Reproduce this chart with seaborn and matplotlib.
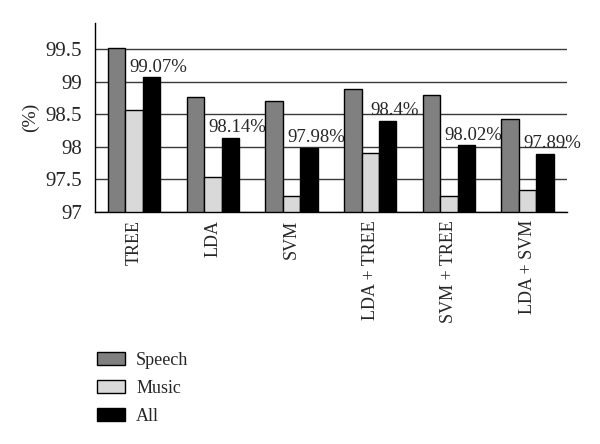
import matplotlib
matplotlib.use("Agg")
import matplotlib.pyplot as plt
import seaborn as sns
import pandas as pd
import numpy as np
from matplotlib.patches import Patch

methods = ["TREE", "LDA", "SVM", "LDA + TREE", "SVM + TREE", "LDA + SVM"]
speech = [99.52, 98.76, 98.71, 98.88, 98.79, 98.43]
music = [98.56, 97.53, 97.25, 97.91, 97.24, 97.34]
all_ = [99.07, 98.14, 97.98, 98.40, 98.02, 97.89]
all_labels = ["99.07%", "98.14%", "97.98%", "98.4%", "98.02%", "97.89%"]
series = ["Speech", "Music", "All"]
colors = ["#808080", "#d9d9d9", "#000000"]
yticks = [97, 97.5, 98, 98.5, 99, 99.5]
ytick_labels = ["97", "97.5", "98", "98.5", "99", "99.5"]

df = pd.DataFrame({
    "method": methods * 3,
    "series": ["Speech"] * 6 + ["Music"] * 6 + ["All"] * 6,
    "value": speech + music + all_,
})

sns.set_style("white")
plt.rcParams["font.family"] = ["Liberation Serif", "DejaVu Serif"]

fig = plt.figure(figsize=(6, 4.44), dpi=100)
ax = fig.add_axes([0.158, 0.523, 0.787, 0.425])

sns.barplot(data=df, x="method", y="value", hue="series", order=methods,
            hue_order=series, palette=colors, width=0.667, edgecolor="black",
            linewidth=1, ax=ax, legend=False, saturation=1)

ax.set_ylim(97, 99.9)
ax.set_xlim(-0.5, len(methods) - 0.5)
ax.set_yticks(yticks)
ax.set_yticklabels(ytick_labels, fontsize=15)
ax.yaxis.grid(True, color="#3a3a3a", linewidth=1)
ax.set_axisbelow(True)

ax.set_xticks(range(len(methods)))
ax.set_xticklabels(methods, rotation=90, fontsize=13)
ax.tick_params(axis="x", which="major", length=0, pad=6)
ax.set_xticks(np.arange(-0.5, len(methods), 1), minor=True)
ax.tick_params(axis="x", which="minor", length=4, width=1, color="black", direction="out")
ax.tick_params(axis="y", length=3, width=1, color="black", direction="out", pad=6)

ax.set_xlabel("")
ax.set_ylabel("(%)", fontsize=14, labelpad=5)

for s in ["top", "right"]:
    ax.spines[s].set_visible(False)
for s in ["left", "bottom"]:
    ax.spines[s].set_color("black")
    ax.spines[s].set_linewidth(1)

all_container = ax.containers[2]
for bar, lab in zip(all_container.patches, all_labels):
    ax.annotate(lab, (bar.get_x() + bar.get_width() / 2, bar.get_height()),
                xytext=(5, 4), textcoords="offset points", ha="center",
                va="baseline", fontsize=13.5, annotation_clip=False)

handles = [Patch(facecolor=c, edgecolor="black", linewidth=1) for c in colors]
fig.legend(handles, series, loc="upper left", bbox_to_anchor=(0.135, 0.244),
           frameon=False, fontsize=13, handlelength=1.55, handleheight=0.72,
           labelspacing=0.6, handletextpad=0.6)

fig.savefig("out.png", dpi=100)
